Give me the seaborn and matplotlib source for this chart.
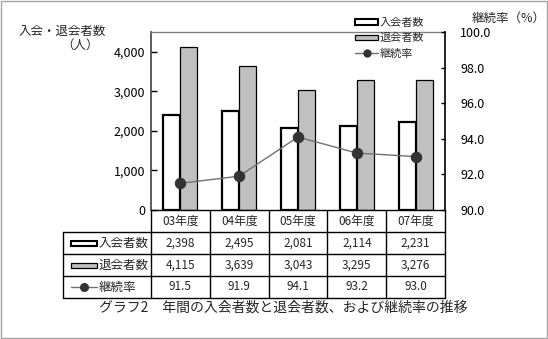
import numpy as np
import pandas as pd
import matplotlib
matplotlib.use("Agg")
import matplotlib.pyplot as plt
import seaborn as sns
from matplotlib.patches import Rectangle, Patch
from matplotlib.lines import Line2D

# ---- data ----
categories = ["03年度", "04年度", "05年度", "06年度", "07年度"]
joins = [2398, 2495, 2081, 2114, 2231]
leaves = [4115, 3639, 3043, 3295, 3276]
rate = [91.5, 91.9, 94.1, 93.2, 93.0]
series_names = ["入会者数", "退会者数", "継続率"]
left_ticks = [0, 1000, 2000, 3000, 4000]
right_ticks = [90, 92, 94, 96, 98, 100]
left_label = ["入会・退会者数", "（人）"]
right_label = "継続率（%）"
caption = "グラフ2　年間の入会者数と退会者数、および継続率の推移"

sns.set_theme(style="white")
plt.rcParams['font.family'] = ['Noto Sans CJK JP', 'DejaVu Sans']

W, H = 548, 339
fig = plt.figure(figsize=(W / 100, H / 100), dpi=100)
fig.patch.set_facecolor("white")
L, R, T, B = 151, 445, 32, 210
ax = fig.add_axes([L / W, 1 - B / H, (R - L) / W, (B - T) / H])

df = pd.DataFrame({
    "cat": categories * 2,
    "series": [series_names[0]] * len(categories) + [series_names[1]] * len(categories),
    "value": joins + leaves,
})
sns.barplot(data=df, x="cat", y="value", hue="series",
            palette=["white", "#C0C0C0"], saturation=1, width=0.58,
            edgecolor="black", linewidth=1.0, ax=ax, legend=False)
for p in ax.containers[0]:
    p.set_linewidth(1.6)
for p in ax.containers[1]:
    p.set_linewidth(0.9)

ax.set_ylim(0, 4500)
ax.set_yticks(left_ticks)
ax.set_yticklabels([f"{v:,}" for v in left_ticks], fontsize=9)
ax.set_xticks([])
ax.set_xlabel("")
ax.set_ylabel("")
ax.tick_params(axis="y", direction="in", length=4, width=1, pad=4, left=True, colors="black")
ax.spines["top"].set_color("#808080")
ax.spines["top"].set_linewidth(1)
ax.spines["left"].set_color("#404040")
ax.spines["left"].set_linewidth(1.2)
ax.spines["bottom"].set_color("black")
ax.spines["bottom"].set_linewidth(1)
ax.spines["right"].set_visible(False)

ax2 = ax.twinx()
sns.lineplot(x=np.arange(len(categories)), y=rate, ax=ax2, color="#707070",
             linewidth=1, marker="o", markersize=7.5,
             markerfacecolor="#333333", markeredgecolor="#333333")
ax2.set_ylim(90, 100)
ax2.set_xlim(-0.5, len(categories) - 0.5)
ax2.set_yticks(right_ticks)
ax2.set_yticklabels([f"{v:.1f}" for v in right_ticks], fontsize=9)
ax2.tick_params(axis="y", direction="in", length=3, width=1, pad=11, right=True, colors="black")
ax2.set_ylabel("")
for s in ["top", "left", "bottom"]:
    ax2.spines[s].set_visible(False)
ax2.spines["right"].set_color("black")
ax2.spines["right"].set_linewidth(1.2)

handles = [
    Patch(facecolor="white", edgecolor="black", linewidth=1.5),
    Patch(facecolor="#C0C0C0", edgecolor="black", linewidth=0.9),
    Line2D([], [], color="#707070", linewidth=1, marker="o", markersize=5,
           markerfacecolor="#333333", markeredgecolor="#333333"),
]
ax2.legend(handles=handles, labels=series_names, loc="upper left",
           bbox_to_anchor=(355 / W, 1 - 18 / H), bbox_transform=fig.transFigure,
           frameon=False, fontsize=8, handlelength=2.1, handleheight=0.35,
           handletextpad=0.1, labelspacing=0.45, borderaxespad=0, borderpad=0)

# ---- data table under the plot ----
tax = fig.add_axes([0, 0, 1, 1], zorder=-1)
tax.set_xlim(0, W)
tax.set_ylim(H, 0)
tax.axis("off")
ncol = len(categories)
col_w = (R - L) / ncol
rows_y = [B, 232, 254, 276, 298]
tab_left = 63
for y in rows_y[1:]:
    tax.plot([tab_left, R], [y, y], color="black", lw=1)
for i in range(ncol + 1):
    x = L + i * col_w
    tax.plot([x, x], [rows_y[0], rows_y[-1]], color="black", lw=1)
tax.plot([tab_left, tab_left], [rows_y[1], rows_y[-1]], color="black", lw=1)

fs = 8.5
for i, c in enumerate(categories):
    cx = L + (i + 0.5) * col_w
    tax.text(cx, (rows_y[0] + rows_y[1]) / 2, c, ha="center", va="center", fontsize=fs)
    tax.text(cx, (rows_y[1] + rows_y[2]) / 2, f"{joins[i]:,}", ha="center", va="center", fontsize=fs)
    tax.text(cx, (rows_y[2] + rows_y[3]) / 2, f"{leaves[i]:,}", ha="center", va="center", fontsize=fs)
    tax.text(cx, (rows_y[3] + rows_y[4]) / 2, f"{rate[i]:.1f}", ha="center", va="center", fontsize=fs)

# row headers with legend keys
for k in range(3):
    cy = (rows_y[k + 1] + rows_y[k + 2]) / 2
    if k < 2:
        tax.add_patch(Rectangle((71, cy - 2.5), 26, 5,
                                facecolor=["white", "#C0C0C0"][k], edgecolor="black",
                                lw=[1.5, 0.9][k]))
    else:
        tax.plot([71, 97], [cy, cy], color="#707070", lw=1)
        tax.plot([84], [cy], marker="o", ms=5.5, color="#333333")
    tax.text(99, cy, series_names[k], ha="left", va="center", fontsize=9)

# border
tax.add_patch(Rectangle((1, 1), W - 2.5, H - 2.5, fill=False, edgecolor="#A6A6A6", lw=1))

# axis titles and caption
fig.text(62 / W, 1 - 31 / H, left_label[0], ha="center", va="center", fontsize=9)
fig.text(99 / W, 1 - 45 / H, left_label[1], ha="right", va="center", fontsize=9)
fig.text(472 / W, 1 - 18 / H, right_label, ha="left", va="center", fontsize=9)
fig.text(283 / W, 1 - 308 / H, caption, ha="center", va="center", fontsize=10)

fig.savefig("out.png", dpi=100)
